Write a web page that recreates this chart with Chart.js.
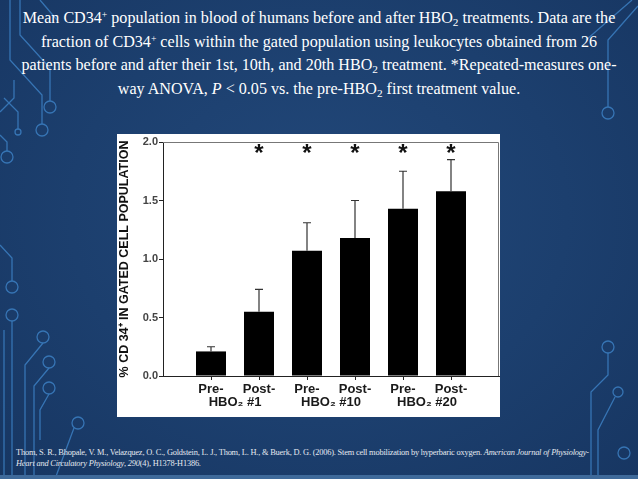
<!DOCTYPE html>
<html>
<head>
<meta charset="utf-8">
<script src="https://cdn.jsdelivr.net/npm/chart.js@4/dist/chart.umd.min.js"></script>
<style>
  html, body { margin: 0; padding: 0; }
  body {
    width: 638px; height: 479px; overflow: hidden; position: relative;
    background: radial-gradient(ellipse at 50% 45%, #22487a 0%, #1c3f6e 55%, #173662 100%);
    font-family: "Liberation Serif", "Times New Roman", serif;
  }
  #deco { position: absolute; left: 0; top: 0; }
  #title {
    position: absolute; left: 0; top: 6px; width: 638px;
    text-align: center; color: #fff; font-size: 16.1px; line-height: 23.5px;
  }
  #title sub { font-size: 0.7em; vertical-align: -0.25em; line-height: 0; }
  #title sup { font-size: 0.6em; vertical-align: 0.55em; line-height: 0; }
  #box {
    position: absolute; left: 117px; top: 134px; width: 383px; height: 283px;
    background: #fff;
  }
  #cite {
    position: absolute; left: 16px; top: 447px; width: 610px;
    color: #e4e9f0; font-size: 8.4px; line-height: 11px; letter-spacing: -0.2px;
  }
  #strip { position: absolute; left: 0; top: 475px; width: 638px; height: 4px; background: #3f6a9a; }
</style>
</head>
<body>
<svg id="deco" width="638" height="479" fill="none" stroke="#3c7fc2" stroke-width="1.3" opacity="0.85">
  <path d="M10 0 V60 L42 95 V124"/><circle cx="42" cy="130" r="6"/>
  <path d="M20 0 V35 L50 68 V101"/><circle cx="50" cy="107" r="6"/>
  <path d="M40 0 L57 20"/>
  <path d="M0 112 L14 98 V80"/><path d="M18 129 V112 L4 98"/><circle cx="18" cy="132" r="3"/>
  <path d="M0 135 L7 142 V151"/><circle cx="7" cy="157" r="6"/>
  <path d="M0 245 L12 258 V281"/><circle cx="12" cy="287" r="6"/>
  <circle cx="12" cy="315" r="6"/><path d="M12 321 V479"/>
  <path d="M4 330 V479"/>
  <circle cx="43" cy="337" r="6"/><path d="M43 343 L25 365 V479"/>
  <circle cx="49" cy="362" r="6"/><path d="M49 368 L34 386 V479"/>
  <circle cx="49" cy="388" r="6"/><path d="M49 394 L40 410 V440"/>
  <circle cx="78" cy="423" r="6"/><path d="M74 428 L55 479"/>
  <path d="M638 6 L608 40 V107"/><circle cx="608" cy="113" r="6"/>
  <path d="M632 0 L586 40"/>
  <circle cx="608" cy="347" r="6"/><path d="M608 353 V375 L591 392 V479"/>
  <circle cx="618" cy="392" r="5"/><path d="M615 397 L598 430 V479"/>
  <circle cx="624" cy="453" r="6"/>
</svg>

<div id="title">Mean CD34<sup>+</sup> population in blood of humans before and after HBO<sub>2</sub> treatments. Data are the<br>fraction of CD34<sup>+</sup> cells within the gated population using leukocytes obtained from 26<br>patients before and after their 1st, 10th, and 20th HBO<sub>2</sub> treatment. *Repeated-measures one-<br>way ANOVA, <i>P</i> &lt; 0.05 vs. the pre-HBO<sub>2</sub> first treatment value.</div>

<div id="box"><canvas id="cd34"></canvas></div>

<div id="cite">Thom, S. R., Bhopale, V. M., Velazquez, O. C., Goldstein, L. J., Thom, L. H., &amp; Buerk, D. G. (2006). Stem cell mobilization by hyperbaric oxygen. <i>American Journal of Physiology-<br>Heart and Circulatory Physiology</i>, <i>290</i>(4), H1378-H1386.</div>
<div id="strip"></div>

<script>
// chart data
const timepoints = ['Pre-', 'Post-', 'Pre-', 'Post-', 'Pre-', 'Post-'];
const treatments = ['HBO\u2082 #1', 'HBO\u2082 #10', 'HBO\u2082 #20'];
const meanCD34 = [0.21, 0.55, 1.07, 1.18, 1.43, 1.58];
const semCD34 = [0.04, 0.19, 0.24, 0.32, 0.32, 0.27];
const significant = [false, true, true, true, true, true];
const yTicks = [0, 0.5, 1.0, 1.5, 2.0];

const barPos = timepoints.map((t, i) => i + 1);
const pairPos = treatments.map((t, i) => 2 * i + 1.5);

const errorBars = {
  id: 'errorBars',
  afterDatasetsDraw(chart) {
    const ctx = chart.ctx;
    const y = chart.scales.y;
    const meta = chart.getDatasetMeta(0);
    ctx.save();
    ctx.strokeStyle = '#333';
    ctx.lineWidth = 1.2;
    meta.data.forEach((bar, i) => {
      const top = y.getPixelForValue(meanCD34[i] + semCD34[i]);
      ctx.beginPath();
      ctx.moveTo(bar.x, bar.y);
      ctx.lineTo(bar.x, top);
      ctx.moveTo(bar.x - 4, top);
      ctx.lineTo(bar.x + 4, top);
      ctx.stroke();
    });
    ctx.restore();
  }
};

const stars = {
  id: 'stars',
  afterDatasetsDraw(chart) {
    const ctx = chart.ctx;
    const y = chart.scales.y;
    const meta = chart.getDatasetMeta(0);
    ctx.save();
    ctx.fillStyle = '#111';
    ctx.font = 'bold 24px "Liberation Sans", Arial, sans-serif';
    ctx.textAlign = 'center';
    ctx.textBaseline = 'alphabetic';
    meta.data.forEach((bar, i) => {
      if (significant[i]) ctx.fillText('*', bar.x, y.getPixelForValue(1.84));
    });
    ctx.restore();
  }
};

const frame = {
  id: 'frame',
  beforeDatasetsDraw(chart) {
    const a = chart.chartArea;
    const ctx = chart.ctx;
    ctx.save();
    ctx.strokeStyle = '#777';
    ctx.lineWidth = 1;
    ctx.beginPath();
    ctx.moveTo(a.left, a.top + 0.5);
    ctx.lineTo(a.right - 0.5, a.top + 0.5);
    ctx.lineTo(a.right - 0.5, a.bottom);
    ctx.stroke();
    ctx.restore();
  }
};

const sans = '"Liberation Sans", Arial, sans-serif';

new Chart(document.getElementById('cd34'), {
  type: 'bar',
  data: {
    datasets: [{
      data: meanCD34.map((v, i) => ({ x: barPos[i], y: v })),
      backgroundColor: '#000',
      borderWidth: 0,
      barPercentage: 0.625,
      categoryPercentage: 1
    }]
  },
  options: {
    responsive: true,
    maintainAspectRatio: false,
    animation: false,
    layout: { padding: { top: 8, right: 1, bottom: 4, left: 0 } },
    plugins: { legend: { display: false }, tooltip: { enabled: false } },
    scales: {
      x: {
        type: 'linear', min: 0, max: 7, weight: 0, offset: false,
        afterBuildTicks: s => { s.ticks = barPos.map(v => ({ value: v })); },
        afterFit: s => { s.height = 17; },
        ticks: {
          autoSkip: false, maxRotation: 0, padding: 3, color: '#1a1a1a',
          font: { family: sans, size: 13, weight: 'bold', lineHeight: 1 },
          callback: (v, i) => timepoints[i]
        },
        grid: { drawOnChartArea: false, tickLength: 4, color: '#222', offset: false },
        border: { color: '#222', width: 1 }
      },
      x2: {
        type: 'linear', min: 0, max: 7, position: 'bottom', weight: 1, offset: false,
        afterBuildTicks: s => { s.ticks = pairPos.map(v => ({ value: v })); },
        afterFit: s => { s.height = 20; },
        ticks: {
          autoSkip: false, maxRotation: 0, padding: 3, color: '#1a1a1a',
          font: { family: sans, size: 13, weight: 'bold', lineHeight: 1 },
          callback: (v, i) => treatments[i]
        },
        grid: { display: false, drawTicks: false, tickLength: 0 },
        border: { display: false }
      },
      y: {
        min: 0, max: 2,
        afterBuildTicks: s => { s.ticks = yTicks.map(v => ({ value: v })); },
        afterFit: s => { s.width = 46; },
        ticks: {
          padding: 1, color: '#444',
          font: { family: sans, size: 11, weight: 'bold' },
          callback: v => v.toFixed(1)
        },
        grid: { drawOnChartArea: false, tickLength: 4, color: '#222' },
        border: { color: '#222', width: 1 },
        title: {
          display: true, text: '% CD 34\u207A IN GATED CELL POPULATION', color: '#111',
          padding: { top: 0, bottom: 0 },
          font: { family: sans, size: 12.5, weight: 'bold' }
        }
      }
    }
  },
  plugins: [frame, errorBars, stars]
});
</script>
</body>
</html>
